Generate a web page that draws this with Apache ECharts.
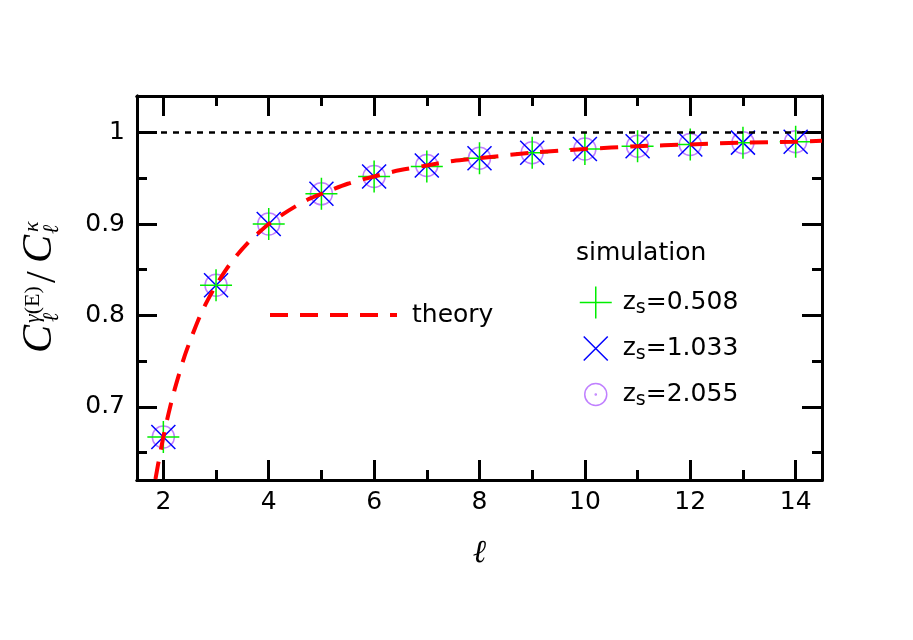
<!DOCTYPE html>
<html><head><meta charset="utf-8">
<script src="https://cdn.jsdelivr.net/npm/echarts@6/dist/echarts.min.js"></script>
<style>html,body{margin:0;padding:0;background:#fff}#c{width:913px;height:640px}</style>
</head><body><div id="c"></div>
<script>
// ---- data ----
const ells      = [2, 3, 4, 5, 6, 7, 8, 9, 10, 11, 12, 13, 14];
const simZ0508  = [0.667, 0.833, 0.900, 0.933, 0.952, 0.963, 0.972, 0.978, 0.982, 0.985, 0.987, 0.989, 0.990];
const simZ1033  = [0.667, 0.833, 0.900, 0.933, 0.952, 0.964, 0.972, 0.978, 0.982, 0.985, 0.987, 0.989, 0.990];
const simZ2055  = [0.667, 0.833, 0.900, 0.933, 0.952, 0.964, 0.972, 0.978, 0.982, 0.985, 0.987, 0.989, 0.990];
const theoryL   = [1.85, 1.9, 1.95, 2.0, 2.1, 2.2, 2.3, 2.4, 2.5, 2.6, 2.7, 2.8, 2.9, 3.0, 3.2, 3.4, 3.6, 3.8, 4.0, 4.25, 4.5, 4.75, 5.0, 5.5, 6.0, 6.5, 7.0, 7.5, 8, 9, 10, 11, 12, 13, 14, 14.5];
const theoryV   = [0.621, 0.637, 0.652, 0.667, 0.693, 0.716, 0.736, 0.755, 0.771, 0.786, 0.800, 0.812, 0.823, 0.833, 0.851, 0.866, 0.879, 0.890, 0.900, 0.910, 0.919, 0.927, 0.933, 0.944, 0.952, 0.959, 0.964, 0.969, 0.972, 0.978, 0.982, 0.985, 0.987, 0.989, 0.990, 0.991];
const xMajor = [2, 4, 6, 8, 10, 12, 14];
const xMinor = [3, 5, 7, 9, 11, 13];
const yMajor = [0.7, 0.8, 0.9, 1];
const yMinor = [0.65, 0.75, 0.85, 0.95];
const refLevel = 1;
const seriesNames = ['theory', 'z0.508', 'z1.033', 'z2.055'];
const seriesLabels = ['theory', '0.508', '1.033', '2.055'];

const zip = (a, b) => a.map((v, i) => [v, b[i]]);
const SANS = '"DejaVu Sans", sans-serif';
const SERIF = '"Liberation Serif", "DejaVu Serif", serif';
const GREEN = '#00ee00', BLUE = '#0000ff', PURPLE = '#c080ff', RED = '#ff0000';
const PLUS = 'path://M0,-1L0,1M-1,0L1,0';
const CROSS = 'path://M-1,-1L1,1M1,-1L-1,1';
const CIRC = 'path://M1,0A1,1,0,1,1,-1,0A1,1,0,1,1,1,0ZM0.05,0A0.05,0.05,0,1,1,-0.05,0A0.05,0.05,0,1,1,0.05,0Z';

function xAx(pos, vals, len, labels) {
  return {
    type: 'value', min: 1.5, max: 14.5, position: pos,
    axisLine: {show: true, onZero: false, lineStyle: {color: '#000', width: 3}},
    axisTick: {show: true, inside: true, length: len, customValues: vals, lineStyle: {color: '#000', width: 3}},
    axisLabel: labels ? {show: true, customValues: vals, fontSize: 25, color: '#000', fontFamily: SANS, margin: 10}
                      : {show: false},
    splitLine: {show: false}
  };
}
function yAx(pos, vals, len, labels) {
  return {
    type: 'value', min: 0.62, max: 1.04, position: pos,
    axisLine: {show: true, onZero: false, lineStyle: {color: '#000', width: 3}},
    axisTick: {show: true, inside: true, length: len, customValues: vals, lineStyle: {color: '#000', width: 3}},
    axisLabel: labels ? {show: true, customValues: vals, fontSize: 25, color: '#000', fontFamily: SANS, margin: 12}
                      : {show: false},
    splitLine: {show: false}
  };
}

const xAxes = [xAx('bottom', xMajor, 20, true), xAx('bottom', xMinor, 10, false),
               xAx('top', xMajor, 20, false), xAx('top', xMinor, 10, false)];
xAxes[0].name = 'ℓ';
xAxes[0].nameLocation = 'middle';
xAxes[0].nameGap = 58;
xAxes[0].nameTextStyle = {fontFamily: SERIF, fontStyle: 'italic', fontSize: 32, color: '#000'};
const yAxes = [yAx('left', yMajor, 20, true), yAx('left', yMinor, 10, false),
               yAx('right', yMajor, 20, false), yAx('right', yMinor, 10, false)];

const zRich = {
  n: {fontSize: 25, fontFamily: SANS, color: '#000', lineHeight: 30},
  s: {fontSize: 19, fontFamily: SANS, color: '#000', lineHeight: 19, verticalAlign: 'bottom', padding: [22, 0, 0, 0]}
};
function simLegend(name, label, icon, color, size, cy) {
  return {
    data: [{name: name, icon: icon}], orient: 'vertical', left: 595 - size / 2, top: cy - 20.5, padding: 0,
    itemWidth: size, itemHeight: size, selectedMode: false,
    itemStyle: {color: 'transparent', borderColor: color, borderWidth: 1.5},
    formatter: () => '{n|z}{s|s}{n|=' + label + '}',
    textStyle: {rich: zRich, padding: [0, 0, 0, 22 - size / 2]}
  };
}

function scatter(name, vals, sym, size, color, z) {
  return {
    name: name, type: 'scatter', data: zip(ells, vals), symbol: sym, symbolSize: size,
    itemStyle: {color: 'transparent', borderColor: color, borderWidth: 1.5, opacity: 1},
    z: z, silent: true
  };
}

const opt = {
  animation: false,
  backgroundColor: '#fff',
  grid: {left: 137, right: 91, top: 96, bottom: 160, containLabel: false},
  xAxis: xAxes,
  yAxis: yAxes,
  title: {text: 'simulation', left: 576, top: 241, padding: 0,
          textStyle: {fontSize: 25, fontWeight: 'normal', fontFamily: SANS, color: '#000'}},
  legend: [
    {data: [seriesNames[0]], left: 268, top: 300, padding: 0, itemWidth: 127, itemHeight: 14, selectedMode: false,
     lineStyle: {color: RED, width: 4, type: [18, 12]}, itemStyle: {opacity: 0},
     textStyle: {fontSize: 25, lineHeight: 30, fontFamily: SANS, color: '#000', padding: [0, 0, 0, 10]}},
    simLegend(seriesNames[1], seriesLabels[1], PLUS, GREEN, 32, 297),
    simLegend(seriesNames[2], seriesLabels[2], CROSS, BLUE, 24, 343),
    simLegend(seriesNames[3], seriesLabels[3], CIRC, PURPLE, 22, 389)
  ],
  series: [
    scatter(seriesNames[3], simZ2055, CIRC, 22, PURPLE, 2),
    scatter(seriesNames[2], simZ1033, CROSS, 24, BLUE, 3),
    scatter(seriesNames[1], simZ0508, PLUS, 32, GREEN, 4),
    {
      name: seriesNames[0], type: 'line', data: zip(theoryL, theoryV), smooth: 0.3,
      symbol: 'none', showSymbol: false, clip: true, z: 5, silent: true,
      lineStyle: {color: RED, width: 4, type: [18, 12]},
      markLine: {silent: true, symbol: 'none', label: {show: false},
                 lineStyle: {color: '#000', width: 2.5, type: [6, 6]},
                 data: [{yAxis: refLevel}]}
    }
  ],
  graphic: [{
    type: 'group', x: 40, y: 353, rotation: Math.PI / 2,
    children: [
      {type: 'text', x: 0, y: 0, style: {text: 'C', font: 'italic 42px ' + SERIF, fill: '#000', verticalAlign: 'middle'}},
      {type: 'text', x: 30, y: -7, style: {text: '{g|γ}{e|(E)}', rich: {g: {font: 'italic 22px ' + SERIF, fill: '#000'}, e: {font: '22px ' + SERIF, fill: '#000'}}, verticalAlign: 'middle'}},
      {type: 'text', x: 31, y: 12, style: {text: 'ℓ', font: 'italic 22px ' + SERIF, fill: '#000', verticalAlign: 'middle'}},
      {type: 'text', x: 70, y: 4, style: {text: '/', font: '42px ' + SERIF, fill: '#000', verticalAlign: 'middle'}},
      {type: 'text', x: 90, y: 0, style: {text: 'C', font: 'italic 42px ' + SERIF, fill: '#000', verticalAlign: 'middle'}},
      {type: 'text', x: 121, y: -8, style: {text: 'κ', font: 'italic 22px ' + SERIF, fill: '#000', verticalAlign: 'middle'}},
      {type: 'text', x: 119, y: 12, style: {text: 'ℓ', font: 'italic 22px ' + SERIF, fill: '#000', verticalAlign: 'middle'}}
    ]
  }]
};

const chart = echarts.init(document.getElementById('c'), null, {renderer: 'canvas'});
chart.setOption(opt);
</script></body></html>
